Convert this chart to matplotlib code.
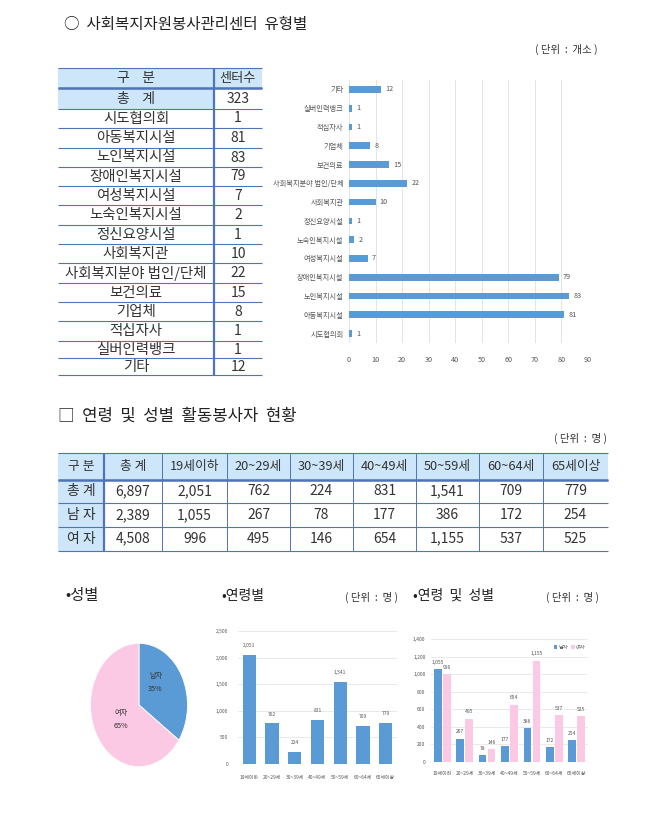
import matplotlib
matplotlib.use("Agg")
import matplotlib.pyplot as plt
from matplotlib.patches import Rectangle

plt.rcParams['font.family'] = ['Noto Sans CJK KR', 'DejaVu Sans']

BLUE = '#5B9BD5'
PINK = '#FBC9E4'
HEAD = '#CDE6FA'
LINE = '#4F74B8'
TXT = '#333333'

# --- data ---
center_types = ['시도협의회', '아동복지시설', '노인복지시설', '장애인복지시설', '여성복지시설',
                '노숙인복지시설', '정신요양시설', '사회복지관', '사회복지분야 법인/단체',
                '보건의료', '기업체', '적십자사', '실버인력뱅크', '기타']
center_counts = [1, 81, 83, 79, 7, 2, 1, 10, 22, 15, 8, 1, 1, 12]
center_total = 323

age_headers = ['19세이하', '20~29세', '30~39세', '40~49세', '50~59세', '60~64세', '65세이상']
row_names = ['총 계', '남 자', '여 자']
total_col = ['6,897', '2,389', '4,508']
age_total = [2051, 762, 224, 831, 1541, 709, 779]
age_male = [1055, 267, 78, 177, 386, 172, 254]
age_female = [996, 495, 146, 654, 1155, 537, 525]
gender_labels = ['남자', '여자']
gender_values = [2389, 4508]
chart_ages = ['19세이하', '20~29세', '30~39세', '40~49세', '50~59세', '60~64세', '65세이상']

W, H = 666, 813
fig = plt.figure(figsize=(W / 100, H / 100), dpi=100, facecolor='white')


def axes_px(x0, y0, x1, y1):
    return fig.add_axes([x0 / W, 1 - y1 / H, (x1 - x0) / W, (y1 - y0) / H])


page = axes_px(0, 0, W, H)
page.set_xlim(0, W)
page.set_ylim(H, 0)
page.axis('off')
page.set_zorder(5)


def t(x, y, s, size=10, ha='center', color=TXT, **kw):
    page.text(x, y, s, fontsize=size, ha=ha, va='center', color=color, **kw)


def hline(y, x0, x1, lw=0.8, c=LINE):
    page.plot([x0, x1], [y, y], color=c, lw=lw, solid_capstyle='butt')


def vline(x, y0, y1, lw=0.8, c=LINE):
    page.plot([x, x], [y0, y1], color=c, lw=lw, solid_capstyle='butt')


# --- headings ---
t(64, 24, '○  사회복지자원봉사관리센터  유형별', 11.2, ha='left', color='#222222')
t(598, 49, '( 단위  :  개소 )', 7.5, ha='right')
t(58, 416, '□  연령  및  성별  활동봉사자  현황', 12, ha='left', color='#222222')
t(607, 438, '( 단위  :  명 )', 7.5, ha='right')
t(65, 595, '•성별', 11, ha='left', color='#222222')
t(221, 596, '•연령별', 10, ha='left', color='#222222')
t(398, 597, '( 단위  :  명 )', 7.5, ha='right')
t(413, 596, '•연령  및  성별', 10, ha='left', color='#222222')
t(599, 597, '( 단위  :  명 )', 7.5, ha='right')

# --- table 1 ---
tx0, tdiv, tx1 = 58, 214, 262
ys = [68, 88.5, 109, 128, 148, 167, 186, 205.5, 225, 244, 263, 283, 302, 321, 341, 358, 375]
page.add_patch(Rectangle((tx0, ys[0]), tdiv - tx0, ys[2] - ys[0], fc=HEAD, lw=0))
page.add_patch(Rectangle((tdiv, ys[0]), tx1 - tdiv, ys[1] - ys[0], fc=HEAD, lw=0))
for y in ys:
    hline(y, tx0, tx1, 0.8)
hline(ys[1], tx0, tx1, 1.8)
vline(tdiv, ys[0], ys[-1], 1.6)
t((tx0 + tdiv) / 2, (ys[0] + ys[1]) / 2, '구    분', 10)
t((tdiv + tx1) / 2, (ys[0] + ys[1]) / 2, '센터수', 9.5)
t((tx0 + tdiv) / 2, (ys[1] + ys[2]) / 2, '총    계', 10)
t((tdiv + tx1) / 2, (ys[1] + ys[2]) / 2, str(center_total), 10)
for i, (name, val) in enumerate(zip(center_types, center_counts)):
    yc = (ys[i + 2] + ys[i + 3]) / 2
    t((tx0 + tdiv) / 2, yc, name, 10.4)
    t((tdiv + tx1) / 2, yc, str(val), 10)

# --- table 2 ---
xs = [58, 104, 162, 227, 290, 353, 416, 479, 543, 608]
ry = [453, 479.5, 503, 527, 550.5]
page.add_patch(Rectangle((xs[0], ry[0]), xs[-1] - xs[0], ry[1] - ry[0], fc=HEAD, lw=0))
page.add_patch(Rectangle((xs[0], ry[1]), xs[1] - xs[0], ry[-1] - ry[1], fc=HEAD, lw=0))
for y in ry:
    hline(y, xs[0], xs[-1], 0.8)
hline(ry[1], xs[0], xs[-1], 1.8)
for x in xs[2:-1]:
    vline(x, ry[0], ry[-1], 0.7)
vline(xs[1], ry[0], ry[-1], 1.6)
heads = ['구 분', '총 계'] + age_headers
for i, s in enumerate(heads):
    t((xs[i] + xs[i + 1]) / 2, (ry[0] + ry[1]) / 2, s, 9.2)
for r, (name, tot, series) in enumerate(zip(row_names, total_col, [age_total, age_male, age_female])):
    yc = (ry[r + 1] + ry[r + 2]) / 2
    t((xs[0] + xs[1]) / 2, yc, name, 10)
    t((xs[1] + xs[2]) / 2, yc, tot, 10)
    for c, v in enumerate(series):
        t((xs[c + 2] + xs[c + 3]) / 2, yc, f'{v:,}', 10)

# --- horizontal bar chart ---
ax = axes_px(349, 80, 588, 343)
ypos = range(len(center_types))
ax.barh(list(ypos), center_counts, height=0.36, color=BLUE)
ax.set_xlim(0, 90)
ax.set_ylim(-0.5, len(center_types) - 0.5)
ax.set_xticks(range(0, 91, 10))
ax.set_yticks(list(ypos))
ax.set_yticklabels(center_types)
ax.tick_params(length=0, labelsize=5.2, colors='#555555', pad=4)
ax.tick_params(axis='x', pad=9)
ax.grid(axis='x', color='#E4E4E4', lw=0.7)
ax.set_axisbelow(True)
for s in ax.spines.values():
    s.set_visible(False)
for y, v in zip(ypos, center_counts):
    ax.annotate(str(v), (v, y), xytext=(3, 0), textcoords='offset points',
                fontsize=5.2, color='#555555', va='center')

# --- pie ---
ax = axes_px(90.5, 643.3, 187.5, 766.7)
ax.pie(gender_values, colors=[BLUE, PINK], startangle=90, counterclock=False, radius=1,
       wedgeprops=dict(edgecolor='white', linewidth=0.6))
ax.set_aspect('auto')
ax.set_xlim(-1, 1)
ax.set_ylim(-1, 1)
t(155.5, 676, gender_labels[0], 5.2, color='#333333')
t(155.5, 688.5, '35%', 5.2, color='#333333')
t(121, 713, gender_labels[1], 5.2, color='#333333')
t(121, 726, '65%', 5.2, color='#333333')

# --- age bars ---
ax = axes_px(238, 631, 397, 764)
bx = range(len(chart_ages))
ax.bar(list(bx), age_total, width=0.58, color=BLUE)
ax.set_xlim(-0.5, len(chart_ages) - 0.5)
ax.set_ylim(0, 2500)
ax.set_yticks(range(0, 2501, 500))
ax.set_yticklabels([f'{v:,}' for v in range(0, 2501, 500)])
ax.set_xticks(list(bx))
ax.set_xticklabels(chart_ages)
ax.tick_params(length=0, labelsize=3.5, colors='#555555')
ax.tick_params(axis='x', pad=8)
ax.tick_params(axis='y', pad=7)
ax.grid(axis='y', color='#E6E6E6', lw=0.6)
ax.set_axisbelow(True)
for s in ax.spines.values():
    s.set_visible(False)
for x, v in zip(bx, age_total):
    ax.annotate(f'{v:,}', (x, v), xytext=(0, 5), textcoords='offset points',
                fontsize=3.5, color='#555555', ha='center', va='bottom')

# --- age x gender bars ---
ax = axes_px(431, 639, 588, 762)
bw = 0.34
gap = 0.2
ax.bar([i - gap for i in bx], age_male, width=bw, color=BLUE, label=gender_labels[0])
ax.bar([i + gap for i in bx], age_female, width=bw, color=PINK, label=gender_labels[1])
ax.set_xlim(-0.5, len(chart_ages) - 0.5)
ax.set_ylim(0, 1400)
ax.set_yticks(range(0, 1401, 200))
ax.set_yticklabels([f'{v:,}' for v in range(0, 1401, 200)])
ax.set_xticks(list(bx))
ax.set_xticklabels(chart_ages)
ax.tick_params(length=0, labelsize=3.6, colors='#555555')
ax.tick_params(axis='x', pad=6)
ax.tick_params(axis='y', pad=4)
ax.grid(axis='y', color='#E6E6E6', lw=0.6)
ax.set_axisbelow(True)
for s in ax.spines.values():
    s.set_visible(False)
for i in bx:
    ax.annotate(f'{age_male[i]:,}', (i - gap, age_male[i]), xytext=(0, 3), textcoords='offset points',
                fontsize=3.6, color='#555555', ha='center', va='bottom')
    ax.annotate(f'{age_female[i]:,}', (i + gap, age_female[i]), xytext=(0, 3), textcoords='offset points',
                fontsize=3.6, color='#555555', ha='center', va='bottom')
ax.legend(loc='upper right', ncol=2, fontsize=3.8, frameon=False, handlelength=0.7, handleheight=0.7,
          columnspacing=0.6, handletextpad=0.2, bbox_to_anchor=(1.0, 0.97), borderaxespad=0,
          labelcolor='#555555')

fig.savefig('out.png', dpi=100, facecolor='white')
